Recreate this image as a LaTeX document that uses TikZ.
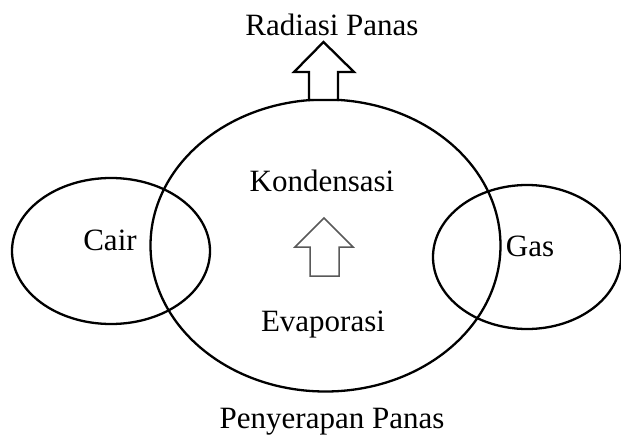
\documentclass[tikz,border=0pt]{standalone}
\usepackage{fontspec}
\setmainfont{Liberation Serif}
\usetikzlibrary{shapes.geometric}
\begin{document}
\begin{tikzpicture}[x=1pt,y=-1pt,
  ring/.style={draw=black,line width=2.3pt,ellipse,inner sep=0pt},
  label/.style={font=\fontsize{31}{33}\selectfont,inner sep=0pt,anchor=base},
  bigarrow/.style={draw=black,line width=2.3pt,fill=white,line join=miter},
  smallarrow/.style={draw=black!65,line width=1.5pt,fill=white,line join=miter}]
\useasboundingbox[fill=white] (0,0) rectangle (621,434);
% phases and the transition zone
\node[ring,minimum width=350pt,minimum height=292pt] (zone) at (325.5,245.5) {};
\node[ring,minimum width=198pt,minimum height=146pt] (cair) at (111,251) {};
\node[ring,minimum width=188pt,minimum height=144pt] (gas) at (527,257) {};
% labels
\node[label] (lrad) at (332,35) {Radiasi Panas};
\node[label] (lkon) at (322,191) {Kondensasi};
\node[label] (lcair) at (110,250) {Cair};
\node[label] (lgas) at (530,256) {Gas};
\node[label] (leva) at (323,331) {Evaporasi};
\node[label] (lpen) at (332,428) {Penyerapan Panas};
% heat leaving upward
\draw[bigarrow] (309,100) -- (309,72) -- (294,72) -- (323.5,42) -- (354,72) -- (338,72) -- (338,100) -- cycle;
% inner direction arrow
\draw[smallarrow] (310,276) -- (310,247) -- (295,247) -- (324,218) -- (353,247) -- (339,247) -- (339,276) -- cycle;
\end{tikzpicture}
\end{document}
